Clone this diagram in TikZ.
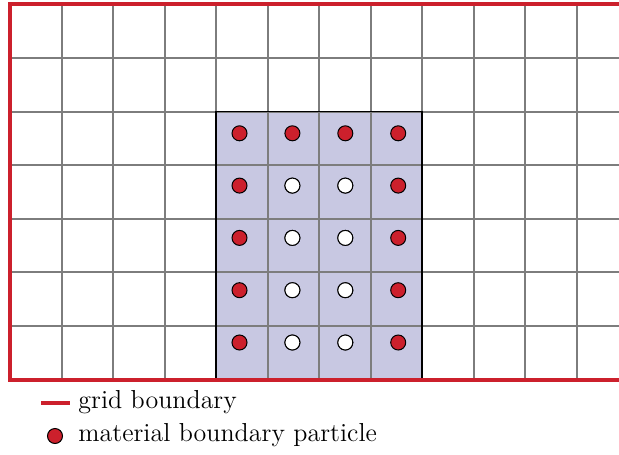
\documentclass[tikz,border=0pt]{standalone}
\usepackage{tikz}
\usetikzlibrary{positioning}

\definecolor{bndred}{RGB}{204,32,44}
\definecolor{matfill}{RGB}{200,200,226}
\definecolor{gridgray}{RGB}{125,125,125}

\begin{document}
\begin{tikzpicture}[
    x=0.5pt, y=-0.5pt,
    gridline/.style={draw=gridgray, line width=1pt},
    boundary/.style={draw=bndred, line width=2pt},
    particle/.style={draw=black, circle, fill=bndred, minimum size=7.5pt, inner sep=0pt, line width=0.5pt},
    inner/.style={particle, fill=white},
    legendtext/.style={font=\fontsize{13}{15}\selectfont, anchor=base west, inner sep=0pt}
]
\useasboundingbox (0,0) rectangle (619,454);

% material region
\fill[matfill] (216,111.7) rectangle (422,379.5);

% background grid
\foreach \i in {1,...,11}
    \draw[gridline] (10+51.5*\i,4.5) -- (10+51.5*\i,379.5);
\foreach \j in {1,...,6}
    \draw[gridline] (10,4.5+53.57*\j) -- (619,4.5+53.57*\j);

\draw[line width=0.8pt] (216,379.5) -- (216,111.7) -- (422,111.7) -- (422,379.5);

% grid boundary
\draw[boundary] (619,4.5) -- (10,4.5) -- (10,379.5) -- (619,379.5);

% particles
\foreach \i in {0,...,3}
  \foreach \j in {0,...,4}
    \node[particle] (p\i\j) at (239.5+52.9*\i,133.3+52.3*\j) {};
\foreach \i in {1,2}
  \foreach \j in {1,...,4}
    \node[inner] (q\i\j) at (239.5+52.9*\i,133.3+52.3*\j) {};

% legend
\coordinate (L1) at (41,403);
\coordinate (L2) at (70,403);
\draw[boundary] (L1) -- (L2);
\node[legendtext] (gridlbl) at (78,408) {grid boundary};
\node[particle] (legdot) at (55,436) {};
\node[legendtext] (matlbl) at (78,441.5) {material boundary particle};

\end{tikzpicture}
\end{document}
